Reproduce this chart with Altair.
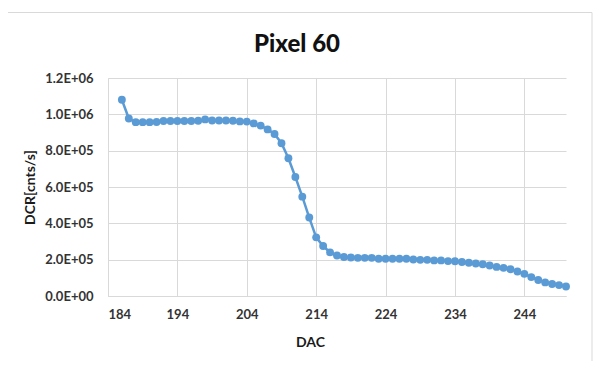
import altair as alt
import pandas as pd

title_text = "Pixel 60"
x_title = "DAC"
y_title = "DCR[cnts/s]"

dac = list(range(186, 251))
dcr = [
    1.080e6, 0.977e6, 0.957e6, 0.957e6, 0.957e6, 0.958e6, 0.963e6, 0.963e6, 0.963e6, 0.963e6,
    0.963e6, 0.965e6, 0.972e6, 0.966e6, 0.966e6, 0.966e6, 0.965e6, 0.961e6, 0.960e6, 0.950e6,
    0.938e6, 0.917e6, 0.892e6, 0.841e6, 0.758e6, 0.655e6, 0.547e6, 0.432e6, 0.323e6, 0.275e6,
    0.240e6, 0.223e6, 0.215e6, 0.212e6, 0.210e6, 0.210e6, 0.210e6, 0.205e6, 0.205e6, 0.205e6,
    0.205e6, 0.205e6, 0.201e6, 0.199e6, 0.199e6, 0.196e6, 0.196e6, 0.192e6, 0.191e6, 0.187e6,
    0.183e6, 0.179e6, 0.175e6, 0.168e6, 0.160e6, 0.155e6, 0.147e6, 0.135e6, 0.122e6, 0.104e6,
    0.088e6, 0.075e6, 0.066e6, 0.060e6, 0.052e6,
]
x_ticks = [184, 194, 204, 214, 224, 234, 244]
y_ticks = [0, 2e5, 4e5, 6e5, 8e5, 1.0e6, 1.2e6]

df = pd.DataFrame({"dac": dac, "dcr": dcr})
one = pd.DataFrame({"t": [title_text]})

BLUE = "#5B9BD5"
GRID = "#d9d9d9"
FONT = "Lato"

exp = "floor(log(datum.value) / LN10 + 1e-9)"
label_expr = (
    "datum.value == 0 ? '0.0E+00' : format(datum.value / pow(10, " + exp + "), '.1f')"
    " + 'E+' + format(" + exp + ", '02d')"
)

line = alt.Chart(df).mark_line(
    color=BLUE,
    strokeWidth=2.5,
    point=alt.OverlayMarkDef(filled=True, size=62, color=BLUE, opacity=1),
).encode(
    x=alt.X(
        "dac:Q",
        scale=alt.Scale(domain=[184, 250], nice=False, zero=False),
        axis=alt.Axis(
            values=x_ticks,
            title=x_title,
            titleX=202,
            titleY=46,
            titleAlign="center",
            titleBaseline="middle",
            labelPadding=12,
            format="d",
        ),
    ),
    y=alt.Y(
        "dcr:Q",
        scale=alt.Scale(domain=[0, 1.2e6], nice=False),
        axis=alt.Axis(
            values=y_ticks,
            title=y_title,
            titleAngle=270,
            titleX=-78,
            titleY=109,
            titleAlign="center",
            titleBaseline="middle",
            labelPadding=15,
            labelExpr=label_expr,
        ),
    ),
)

title = alt.Chart(one).mark_text(
    font=FONT, fontSize=24, fontWeight=900, color="#111111",
    align="center", baseline="alphabetic",
).encode(text="t:N", x=alt.value(189), y=alt.value(-26))

frame_top = alt.Chart(one).mark_rule(color=GRID, strokeWidth=1).encode(
    x=alt.value(-100), x2=alt.value(484), y=alt.value(-65.5)
)
frame_right = alt.Chart(one).mark_rule(color=GRID, strokeWidth=1).encode(
    x=alt.value(484), y=alt.value(-65.5), y2=alt.value(283)
)

chart = alt.layer(frame_top, frame_right, line, title).properties(
    width=458,
    height=218,
    autosize=alt.AutoSizeParams(type="none"),
    padding={"left": 100, "top": 70, "right": 27, "bottom": 65},
    background="white",
).configure_view(stroke=None).configure_axis(
    grid=True,
    gridColor=GRID,
    gridWidth=1,
    domainColor=GRID,
    domainWidth=1,
    ticks=False,
    labelFont=FONT,
    labelFontSize=13,
    labelFontWeight="bold",
    labelColor="#333333",
    titleFont=FONT,
    titleFontSize=14,
    titleFontWeight="bold",
    titleColor="#1a1a1a",
)

chart.save("out.html", embed_options={"renderer": "svg", "actions": False})
